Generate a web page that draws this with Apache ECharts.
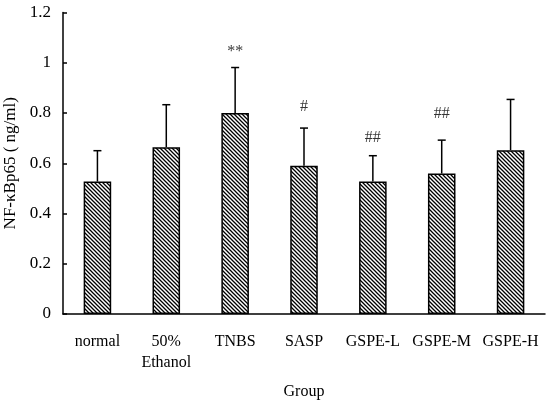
<!DOCTYPE html>
<html>
<head>
<meta charset="utf-8">
<script src="https://cdn.jsdelivr.net/npm/echarts@6/dist/echarts.min.js"></script>
<style>
  html, body { margin: 0; padding: 0; background: #fff; }
  #main { width: 550px; height: 405px; }
</style>
</head>
<body>
<div id="main"></div>
<script>
// groups and measured values (ng/ml)
var groups = ['normal', '50%\nEthanol', 'TNBS', 'SASP', 'GSPE-L', 'GSPE-M', 'GSPE-H'];
var means = [0.527, 0.664, 0.80, 0.59, 0.527, 0.559, 0.652];
var errTops = [0.65, 0.833, 0.981, 0.74, 0.63, 0.692, 0.854];
// significance marks and the height where they sit
var marks = ['', '', '**', '#', '##', '##', ''];
var markY = [null, null, 1.045, 0.826, 0.70, 0.797, null];
var yTicks = [0, 0.2, 0.4, 0.6, 0.8, 1, 1.2];

var FONT = '"Liberation Serif", "Times New Roman", serif';

// diagonal hatch (top-left to bottom-right)
function makeHatch() {
  var c = document.createElement('canvas');
  c.width = 4; c.height = 4;
  var g = c.getContext('2d');
  g.fillStyle = '#fff';
  g.fillRect(0, 0, 4, 4);
  g.strokeStyle = '#000';
  g.lineWidth = 1.3;
  g.beginPath();
  g.moveTo(-1, -1); g.lineTo(5, 5);
  g.moveTo(-1, 3); g.lineTo(1, 5);
  g.moveTo(3, -1); g.lineTo(5, 1);
  g.stroke();
  return c;
}

var errData = groups.map(function (g, i) { return [i, means[i], errTops[i]]; });
var markData = [];
marks.forEach(function (m, i) {
  if (m) markData.push({ value: [i, markY[i]], label: { formatter: m } });
});

var chart = echarts.init(document.getElementById('main'));
chart.setOption({
  animation: false,
  grid: { left: 63, right: 5, top: 12.5, bottom: 91, outerBoundsMode: 'none', containLabel: false },
  xAxis: {
    type: 'category',
    data: groups,
    name: 'Group',
    nameLocation: 'middle',
    nameGap: 70,
    nameTextStyle: { fontFamily: FONT, fontSize: 16, color: '#000' },
    axisLine: { lineStyle: { color: '#000', width: 1.5 } },
    axisTick: { inside: true, length: 4, lineStyle: { color: '#000', width: 1.5 } },
    axisLabel: { interval: 0, fontFamily: FONT, fontSize: 16, color: '#000', margin: 17, lineHeight: 21 }
  },
  yAxis: {
    type: 'value',
    min: 0,
    max: 1.2,
    interval: 0.2,
    name: 'NF-κBp65 ( ng/ml)',
    nameLocation: 'middle',
    nameGap: 36,
    nameTextStyle: { fontFamily: FONT, fontSize: 17, color: '#000' },
    axisLine: { show: true, lineStyle: { color: '#000', width: 1.5 } },
    axisTick: { show: true, inside: true, length: 4, lineStyle: { color: '#000', width: 1.5 } },
    splitLine: { show: false },
    axisLabel: {
      fontFamily: FONT, fontSize: 17, color: '#000', margin: 12,
      formatter: function (v) {
        var r = Math.round(v * 10) / 10;
        return yTicks.indexOf(r) >= 0 ? String(r) : '';
      }
    }
  },
  series: [
    {
      type: 'bar',
      data: means,
      barWidth: '40%',
      itemStyle: {
        color: { image: makeHatch(), repeat: 'repeat' },
        borderColor: '#000',
        borderWidth: 1.5
      },
      z: 2
    },
    {
      type: 'custom',
      data: errData,
      renderItem: function (params, api) {
        var p0 = api.coord([api.value(0), api.value(1)]);
        var p1 = api.coord([api.value(0), api.value(2)]);
        var st = { stroke: '#000', lineWidth: 1.5 };
        return {
          type: 'group',
          children: [
            { type: 'line', shape: { x1: p0[0], y1: p0[1], x2: p1[0], y2: p1[1] }, style: st },
            { type: 'line', shape: { x1: p1[0] - 4, y1: p1[1], x2: p1[0] + 4, y2: p1[1] }, style: st }
          ]
        };
      },
      z: 3
    },
    {
      type: 'scatter',
      data: markData,
      symbolSize: 0,
      label: {
        show: true,
        position: 'inside',
        fontFamily: FONT,
        fontSize: 16,
        color: '#000'
      },
      z: 4
    }
  ]
});
</script>
</body>
</html>
